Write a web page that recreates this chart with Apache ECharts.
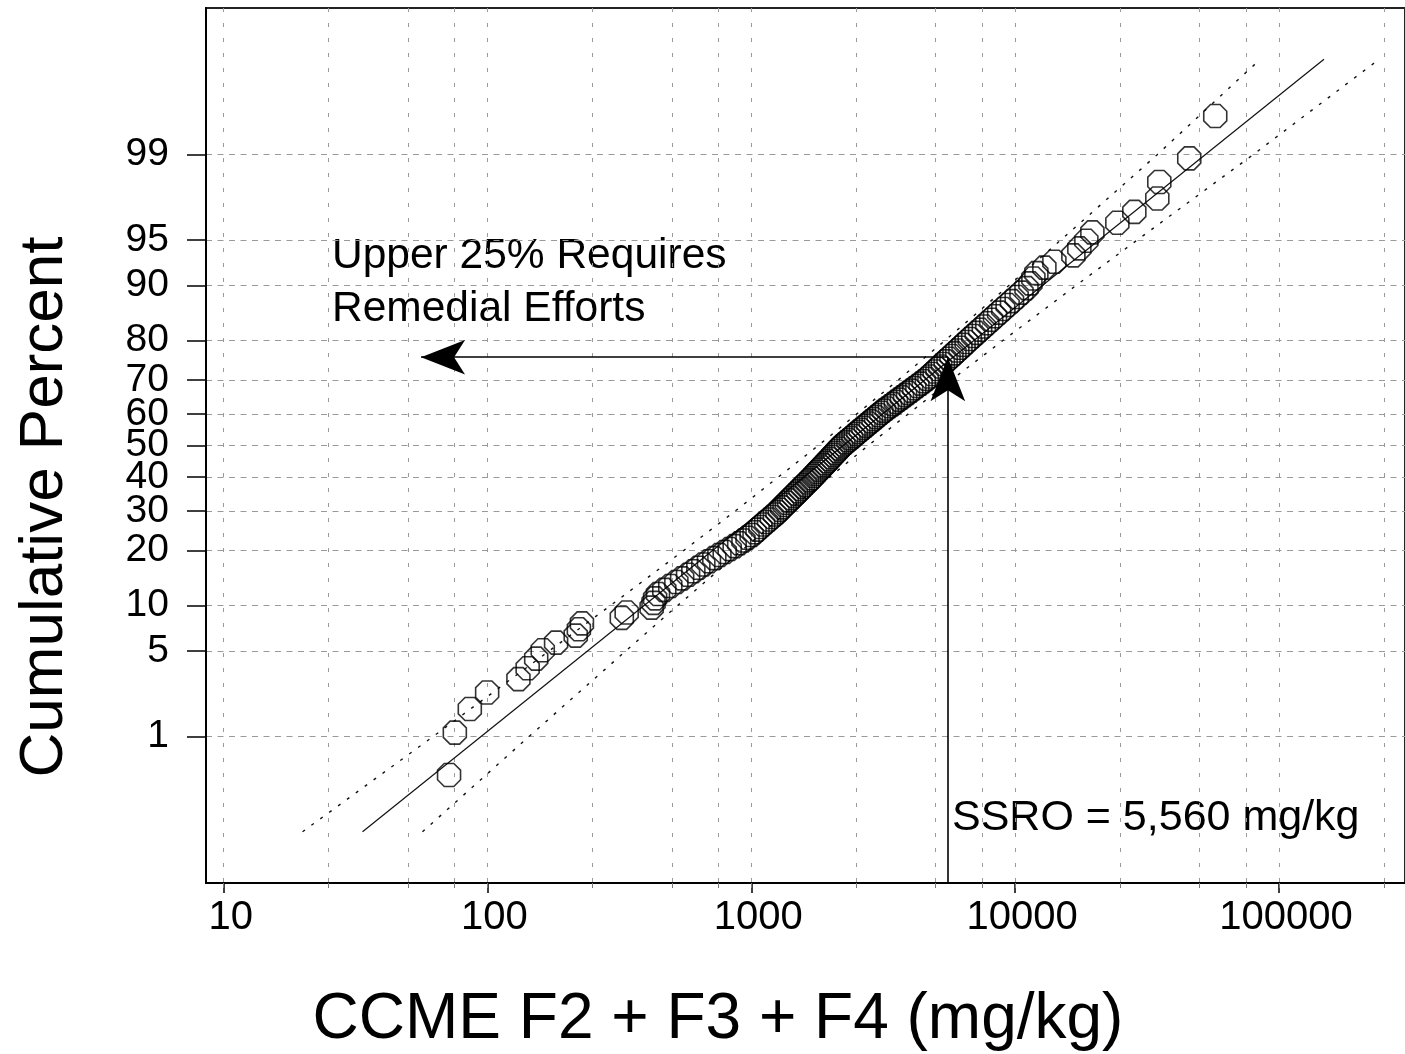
<!DOCTYPE html>
<html>
<head>
<meta charset="utf-8">
<script src="https://cdn.jsdelivr.net/npm/echarts@6/dist/echarts.min.js"></script>
<style>
  html, body { margin: 0; padding: 0; background: #fff; }
  #chart { width: 1405px; height: 1054px; }
</style>
</head>
<body>
<div id="chart"></div>
<script>
// ---------------- data ----------------
// CCME F2+F3+F4 concentration of each sample (mg/kg), in rank order
const sampleValues = [
  71.5, 75.2, 85.7, 99.7, 131, 142, 153, 162, 182, 216, 222, 228, 323, 337, 419,
  426, 432, 443, 468, 493, 520, 547, 576, 603, 630, 658, 691, 724, 757, 793,
  828, 865, 900, 934, 968, 1003, 1029, 1056, 1083, 1109, 1139, 1168, 1197, 1229, 1257,
  1283, 1309, 1337, 1364, 1392, 1420, 1448, 1477, 1507, 1536, 1566, 1596, 1627, 1659, 1690,
  1721, 1749, 1782, 1813, 1847, 1879, 1911, 1944, 1978, 2013, 2047, 2081, 2118, 2154, 2191,
  2233, 2284, 2335, 2386, 2439, 2490, 2545, 2603, 2661, 2720, 2779, 2841, 2908, 2973, 3041,
  3113, 3184, 3266, 3353, 3441, 3533, 3627, 3726, 3828, 3929, 4037, 4148, 4261, 4385, 4506,
  4629, 4736, 4848, 4960, 5078, 5199, 5322, 5454, 5594, 5737, 5890, 6041, 6206, 6376, 6551,
  6730, 6939, 7148, 7369, 7610, 7847, 8119, 8392, 8700, 9016, 9369, 9734, 10140, 10573, 11045,
  11429, 11730, 12040, 12912, 14090, 16630, 17520, 18630, 19630, 24410, 28310, 34600, 35210, 45730, 57370
];
// cumulative percent (plotting position) of each sample
const samplePercents = [
  0.42, 1.08, 1.75, 2.41, 3.08, 3.74, 4.41, 5.07, 5.74, 6.41, 7.07, 7.74, 8.40, 9.07, 9.73,
  10.40, 11.06, 11.73, 12.40, 13.06, 13.73, 14.39, 15.06, 15.72, 16.39, 17.05, 17.72, 18.39, 19.05, 19.72,
  20.38, 21.05, 21.71, 22.38, 23.04, 23.71, 24.38, 25.04, 25.71, 26.37, 27.04, 27.70, 28.37, 29.03, 29.70,
  30.37, 31.03, 31.70, 32.36, 33.03, 33.69, 34.36, 35.02, 35.69, 36.36, 37.02, 37.69, 38.35, 39.02, 39.68,
  40.35, 41.02, 41.68, 42.35, 43.01, 43.68, 44.34, 45.01, 45.67, 46.34, 47.00, 47.67, 48.34, 49.00, 49.67,
  50.33, 51.00, 51.66, 52.33, 52.99, 53.66, 54.33, 54.99, 55.66, 56.32, 56.99, 57.65, 58.32, 58.98, 59.65,
  60.32, 60.98, 61.65, 62.31, 62.98, 63.64, 64.31, 64.98, 65.64, 66.31, 66.97, 67.64, 68.30, 68.97, 69.63,
  70.30, 70.96, 71.63, 72.29, 72.96, 73.62, 74.29, 74.96, 75.62, 76.29, 76.95, 77.62, 78.28, 78.95, 79.62,
  80.28, 80.95, 81.61, 82.28, 82.94, 83.61, 84.27, 84.94, 85.61, 86.27, 86.94, 87.60, 88.27, 88.93, 89.60,
  90.27, 90.93, 91.60, 92.26, 92.93, 93.59, 94.26, 94.93, 95.59, 96.26, 96.92, 97.59, 98.25, 98.92, 99.58
];
// fitted lognormal line (end points)
const fitPercents = [0.1, 99.9];
const fitValues = [33.6, 148200];
// confidence bands (dotted)
const bandPercents = [0.1, 1, 5, 10, 20, 30, 50, 70, 80, 90, 95, 99, 99.9];
const bandLeftValues = [19.9, 62.4, 171, 292, 553, 869, 1796, 3608, 5436, 9487, 14930, 34560, 85000];
const bandRightValues = [56.7, 144, 334, 525, 917, 1381, 2774, 5735, 9013, 17060, 29080, 79800, 240000];
// SSRO annotation
const ssroValue = 5560;
const cutoffPercent = 76;
const arrowTipValue = 56;
// axis ticks / labels
const yTickPercents = [1, 5, 10, 20, 30, 40, 50, 60, 70, 80, 90, 95, 99];
const xTickValues = [10, 100, 1000, 10000, 100000];
const xGridValues = [10, 25, 50, 75, 100, 250, 500, 750, 1000, 2500, 5000, 7500,
                     10000, 25000, 50000, 75000, 100000, 250000];
const xRange = [8.57, 300600];
const zRange = [-3.5, 3.5];

// ---------------- probability-scale helpers ----------------
function normInv(p) {
  const a=[-3.969683028665376e+01,2.209460984245205e+02,-2.759285104469687e+02,1.383577518672690e+02,-3.066479806614716e+01,2.506628277459239e+00];
  const b=[-5.447609879822406e+01,1.615858368580409e+02,-1.556989798598866e+02,6.680131188771972e+01,-1.328068155288572e+01];
  const c=[-7.784894002430293e-03,-3.223964580411365e-01,-2.400758277161838e+00,-2.549732539343734e+00,4.374664141464968e+00,2.938163982698783e+00];
  const d=[7.784695709041462e-03,3.224671290700398e-01,2.445134137142996e+00,3.754408661907416e+00];
  const pl = 0.02425, ph = 1 - pl;
  let q, r;
  if (p < pl) { q = Math.sqrt(-2*Math.log(p)); return (((((c[0]*q+c[1])*q+c[2])*q+c[3])*q+c[4])*q+c[5])/((((d[0]*q+d[1])*q+d[2])*q+d[3])*q+1); }
  if (p <= ph) { q = p - 0.5; r = q*q; return (((((a[0]*r+a[1])*r+a[2])*r+a[3])*r+a[4])*r+a[5])*q/(((((b[0]*r+b[1])*r+b[2])*r+b[3])*r+b[4])*r+1); }
  q = Math.sqrt(-2*Math.log(1-p)); return -(((((c[0]*q+c[1])*q+c[2])*q+c[3])*q+c[4])*q+c[5])/((((d[0]*q+d[1])*q+d[2])*q+d[3])*q+1);
}
const zOf = pct => normInv(pct / 100);
const lx = v => Math.log10(v);
const pts = (vals, pcts) => vals.map((v, i) => [lx(v), zOf(pcts[i])]);

const FONT = "'Liberation Sans', Arial, Helvetica, sans-serif";
const octagon = 'path://M29.3,0L70.7,0L100,29.3L100,70.7L70.7,100L29.3,100L0,70.7L0,29.3Z';
const yTickZ = yTickPercents.map(zOf);

const chart = echarts.init(document.getElementById('chart'), null, { renderer: 'canvas' });
chart.setOption({
  animation: false,
  backgroundColor: '#ffffff',
  grid: {
    left: 206, top: 8, width: 1200, height: 875,
    show: true, borderColor: '#222', borderWidth: 2, backgroundColor: 'transparent'
  },
  xAxis: [
    {
      type: 'value', min: lx(xRange[0]), max: lx(xRange[1]),
      axisLine: { show: true, onZero: false, lineStyle: { color: '#000', width: 2 } },
      axisTick: { show: true, customValues: xTickValues.map(lx), length: 10, inside: false,
                  lineStyle: { color: '#000', width: 1.5 } },
      axisLabel: { show: true, customValues: xTickValues.map(lx), margin: 15,
                   padding: [0, 0, 0, 14],
                   formatter: v => String(Math.round(Math.pow(10, v))),
                   color: '#000', fontSize: 40, fontFamily: FONT },
      splitLine: { show: false }
    },
    {
      type: 'value', min: lx(xRange[0]), max: lx(xRange[1]), position: 'bottom',
      axisLine: { show: false, onZero: false },
      axisTick: { show: true, customValues: xGridValues.map(lx), length: 5, inside: false,
                  lineStyle: { color: '#777', width: 1 } },
      axisLabel: { show: false },
      splitLine: { show: true, lineStyle: { color: '#9a9a9a', width: 1, type: [4, 11] } }
    }
  ],
  yAxis: {
    type: 'value', min: zRange[0], max: zRange[1],
    axisLine: { show: true, onZero: false, lineStyle: { color: '#000', width: 2 } },
    axisTick: { show: true, customValues: yTickZ, length: 19, inside: false,
                lineStyle: { color: '#000', width: 1.5 } },
    axisLabel: {
      show: true, customValues: yTickZ, margin: 37, padding: [0, 0, 14, 0],
      formatter: v => {
        let best = 0;
        yTickZ.forEach((z, i) => { if (Math.abs(z - v) < Math.abs(yTickZ[best] - v)) best = i; });
        return String(yTickPercents[best]);
      },
      color: '#000', fontSize: 39, fontFamily: FONT
    },
    splitLine: { show: true, lineStyle: { color: '#9a9a9a', width: 1, type: [6, 5.5] } }
  },
  series: [
    {
      name: 'Lower band', type: 'line', xAxisIndex: 0, yAxisIndex: 0,
      data: pts(bandLeftValues, bandPercents), symbol: 'none', smooth: false,
      lineStyle: { color: '#111', width: 1.4, type: [3, 8] }, z: 2, silent: true
    },
    {
      name: 'Upper band', type: 'line', xAxisIndex: 0, yAxisIndex: 0,
      data: pts(bandRightValues, bandPercents), symbol: 'none', smooth: false,
      lineStyle: { color: '#111', width: 1.4, type: [3, 8] }, z: 2, silent: true
    },
    {
      name: 'Fit', type: 'line', xAxisIndex: 0, yAxisIndex: 0,
      data: pts(fitValues, fitPercents), symbol: 'none',
      lineStyle: { color: '#111', width: 1.2 }, z: 3, silent: true,
      markLine: {
        silent: true, animation: false,
        symbol: ['none', 'arrow'],
        label: { show: false },
        lineStyle: { color: '#000', width: 1.6, type: 'solid' },
        data: [
          [ { coord: [lx(ssroValue), zRange[0]] },
            { coord: [lx(ssroValue), zOf(cutoffPercent)], symbolSize: [26, 44] } ],
          [ { coord: [lx(ssroValue), zOf(cutoffPercent)] },
            { coord: [lx(arrowTipValue), zOf(cutoffPercent)], symbolSize: [26, 44] } ]
        ]
      }
    },
    {
      name: 'Samples', type: 'scatter', xAxisIndex: 0, yAxisIndex: 0,
      data: pts(sampleValues, samplePercents),
      symbol: octagon, symbolSize: 23,
      itemStyle: { color: 'rgba(0,0,0,0)', borderColor: '#000', borderWidth: 1.6 },
      z: 4
    }
  ],
  graphic: [
    { type: 'text', x: 45, y: 507, rotation: Math.PI / 2,
      style: { text: 'Cumulative Percent', fill: '#000', font: '62px ' + FONT,
               align: 'center', verticalAlign: 'middle' } },
    { type: 'text', x: 718, y: 1020,
      style: { text: 'CCME F2 + F3 + F4 (mg/kg)', fill: '#000', font: '64px ' + FONT,
               align: 'center', verticalAlign: 'middle' } },
    { type: 'text', x: 332, y: 230,
      style: { text: 'Upper 25% Requires\nRemedial Efforts', fill: '#000', font: '42.5px ' + FONT,
               lineHeight: 53, align: 'left', verticalAlign: 'top' } },
    { type: 'text', x: 952, y: 818,
      style: { text: 'SSRO = 5,560 mg/kg', fill: '#000', font: '43px ' + FONT,
               align: 'left', verticalAlign: 'middle' } }
  ]
});
</script>
</body>
</html>
